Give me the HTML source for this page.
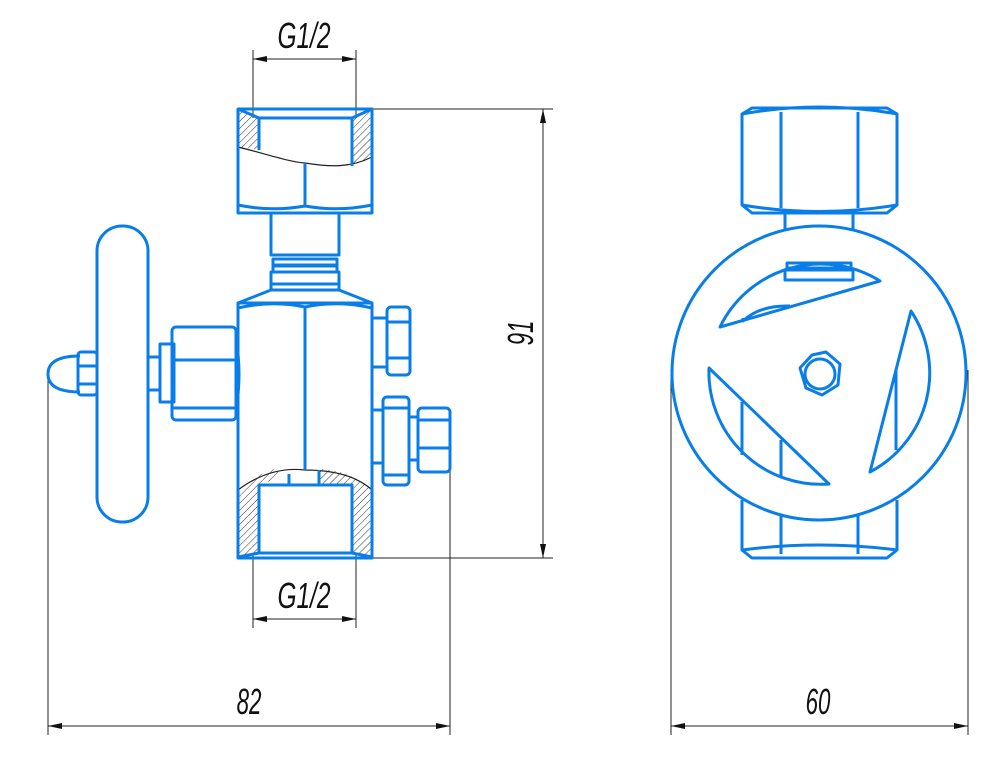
<!DOCTYPE html>
<html><head><meta charset="utf-8"><style>
html,body{margin:0;padding:0;background:#fff;}
svg{display:block;}
.b{fill:none;stroke:#0a7ee8;stroke-width:3;stroke-linejoin:round;}
.d{fill:none;stroke:#222;stroke-width:1;}
.t{font-family:"Liberation Sans",sans-serif;font-style:italic;font-size:36px;fill:#111;}
</style></head><body>
<svg width="1000" height="774" viewBox="0 0 1000 774" xmlns="http://www.w3.org/2000/svg">
<defs>
<pattern id="h" width="5" height="5" patternUnits="userSpaceOnUse" patternTransform="rotate(45)">
<line x1="0" y1="0" x2="0" y2="5" stroke="#333" stroke-width="1"/></pattern>
<marker id="a" markerWidth="14" markerHeight="6" refX="14" refY="3" orient="auto-start-reverse" markerUnits="userSpaceOnUse">
<path d="M0,0 L14,3 L0,6 Z" fill="#111"/></marker>
</defs>

<g class="d">
<line x1="253" y1="50" x2="253" y2="118"/><line x1="356" y1="50" x2="356" y2="118"/>
<line x1="253" y1="59" x2="356" y2="59" marker-start="url(#a)" marker-end="url(#a)"/>
<line x1="372" y1="109" x2="553" y2="109"/>
<line x1="372" y1="558" x2="553" y2="558"/>
<line x1="543" y1="109" x2="543" y2="558" marker-start="url(#a)" marker-end="url(#a)"/>
<line x1="253" y1="553" x2="253" y2="628"/><line x1="356" y1="553" x2="356" y2="628"/>
<line x1="253" y1="619" x2="356" y2="619" marker-start="url(#a)" marker-end="url(#a)"/>
<line x1="48" y1="380" x2="48" y2="735"/><line x1="450" y1="465" x2="450" y2="735"/>
<line x1="48" y1="726" x2="450" y2="726" marker-start="url(#a)" marker-end="url(#a)"/>
<line x1="671" y1="370" x2="671" y2="735"/><line x1="968" y1="370" x2="968" y2="735"/>
<line x1="671" y1="726" x2="968" y2="726" marker-start="url(#a)" marker-end="url(#a)"/>
</g>
<text class="t" x="304" y="48" text-anchor="middle" transform="translate(304 0) scale(0.68 1) translate(-304 0)">G1/2</text>
<text class="t" x="304" y="608" text-anchor="middle" transform="translate(304 0) scale(0.68 1) translate(-304 0)">G1/2</text>
<text class="t" x="249" y="714" text-anchor="middle" transform="translate(249 0) scale(0.62 1) translate(-249 0)">82</text>
<text class="t" x="818" y="714" text-anchor="middle" transform="translate(818 0) scale(0.62 1) translate(-818 0)">60</text>
<text class="t" x="0" y="0" text-anchor="middle" transform="translate(533 333) rotate(-90) scale(0.62 1)">91</text>

<g>
<path d="M238,110 L259,118 L259,150 L238,147 Z" fill="url(#h)"/>
<path d="M372,110 L352,118 L352,166 L372,157 Z" fill="url(#h)"/>
<path d="M238,490 Q255,474 278,468 L278,478 L259,485 L259,553 L238,557 Z" fill="url(#h)"/>
<path d="M372,490 Q350,470 320,469 L320,485 L352,485 L352,553 L372,557 Z" fill="url(#h)"/>
<path d="M238,147 C270,155 290,162 305,163 C330,167 350,168 372,157" fill="none" stroke="#222" stroke-width="1.2"/>
<path d="M238,490 Q270,466 305,470 Q350,470 372,490" fill="none" stroke="#222" stroke-width="1.2"/>
</g>
<g class="b">
<rect x="238" y="109" width="134" height="104"/>
<path d="M238,109 L259,118 L352,118 L372,109 M259,118 L259,150 M352,118 L352,166"/>
<path d="M305,163 L305,207 M238,205 Q272,212 305,206 Q338,212 372,205"/>
<rect x="271" y="213" width="68" height="42"/>
<rect x="273" y="259" width="64" height="6"/><rect x="273" y="266" width="64" height="6"/>
<rect x="271" y="272" width="68" height="12"/>
<path d="M271,290 L238,303 M339,290 L372,303 M271,284 L271,290 M339,284 L339,290 M271,290 L339,290"/>
<rect x="238" y="303" width="134" height="255"/>
<path d="M238,308 Q272,300 305,307 Q338,300 372,308 M305,307 L305,470"/>
<path d="M259,553 L259,485 L352,485 L352,553 M238,557 L259,553 L352,553 L372,557 M289,485 L289,474 M319,485 L319,470"/>
<rect x="97" y="226" width="51" height="296" rx="25"/>
<path d="M80,356 Q48,356 48,374 Q48,392 80,392"/>
<rect x="78" y="352" width="19" height="43" rx="3"/>
<path d="M78,366 L97,366 M78,384 L97,384"/>
<rect x="148" y="357" width="12" height="33"/>
<rect x="160" y="344" width="14" height="58"/>
<rect x="172" y="327" width="64" height="93" rx="4"/>
<path d="M172,360 L236,360 M172,408 L236,408 M236,340 Q242,373 236,410"/>
<path d="M372,318 L387,318 M372,367 L387,367"/>
<rect x="387" y="307" width="23" height="68" rx="4"/>
<path d="M387,322 L410,322 M387,358 L410,358"/>
<path d="M372,410 L383,410 M372,463 L383,463"/>
<rect x="383" y="397" width="26" height="88" rx="4"/>
<path d="M383,408 L409,408 M383,475 L409,475"/>
<path d="M409,417 L418,417 M409,460 L418,460"/>
<rect x="418" y="408" width="32" height="64" rx="4"/>
<path d="M418,420 L450,420 M418,448 L450,448"/>
</g>

<g class="b">
<path d="M752,108 L887,108 L897,114 L897,205 L887,213 L752,213 L742,205 L742,114 Z"/>
<path d="M781,112 L781,208 M858,112 L858,208 M742,114 Q819,100 897,114 M742,205 Q819,218 897,205"/>
<path d="M785,213 L785,230 M853,213 L853,230"/>
<path d="M742,500 L742,550 L752,558 L887,558 L897,550 L897,500 M781,516 L781,554 M858,516 L858,554 M742,550 Q819,540 897,550"/>
<circle cx="819" cy="373" r="147"/>
<path d="M720,327 A112,112 0 0 1 880,281 Z"/>
<path d="M785,270 L853,270 L853,280 L785,280 Z M787,263 L851,263 L851,268 L787,268 Z"/>
<path d="M743,318 L743,321 Q760,305 790,306"/>
<path d="M709,368 A112,112 0 0 0 829,484 Z"/>
<path d="M742,402 L742,455 M781,440 L781,476"/>
<path d="M911,311 A112,112 0 0 1 870,472 Z"/>
<path d="M896,370 L896,450"/>
<polygon points="826,352 840,364 838,385 822,395 806,388 800,368 812,355"/>
<circle cx="820" cy="374" r="15"/>
</g>
</svg>
</body></html>
